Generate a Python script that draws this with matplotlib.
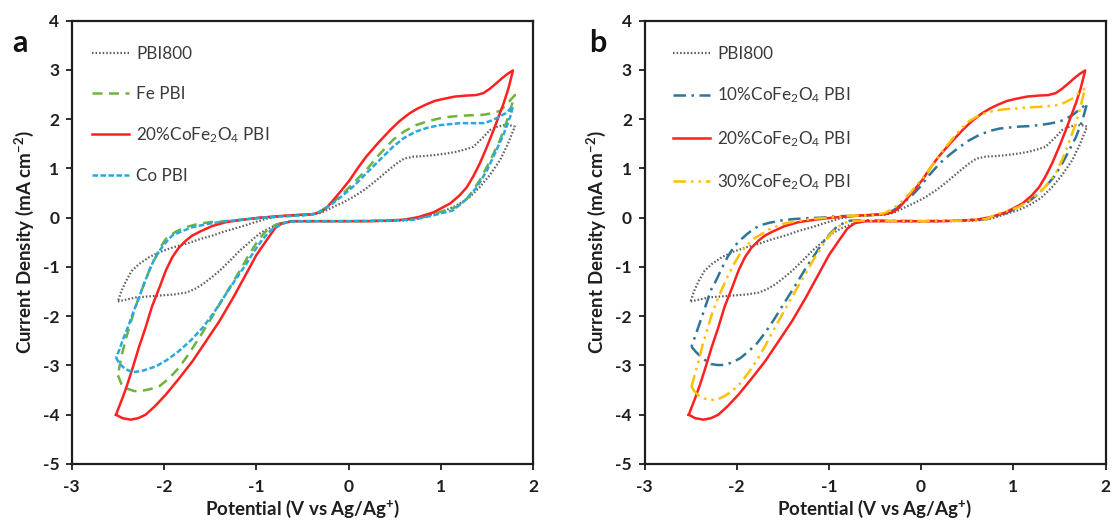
import matplotlib
matplotlib.use("Agg")
import matplotlib.pyplot as plt
import numpy as np

plt.rcParams['font.family'] = ['Lato', 'DejaVu Sans']
plt.rcParams['mathtext.fontset'] = 'custom'
plt.rcParams['mathtext.rm'] = 'Lato'
plt.rcParams['mathtext.it'] = 'Lato:italic'
plt.rcParams['mathtext.bf'] = 'Lato:bold'
plt.rcParams['axes.unicode_minus'] = False

# ---------------- data (potential V vs Ag/Ag+, current density mA cm-2) ----------------
# each loop: "fwd" = lower path from left vertex to right vertex, "rev" = upper path back
pbi800_fwd_v = [-2.50, -2.40, -2.31, -2.18, -2.05, -1.90, -1.76, -1.67, -1.58, -1.49, -1.40, -1.29, -1.18, -1.07, -0.97, -0.88, -0.79, -0.70, -0.60, -0.40, -0.20, 0.00, 0.20, 0.40, 0.66, 0.80, 0.92, 1.05, 1.17, 1.30, 1.42, 1.53, 1.64, 1.72, 1.80]
pbi800_fwd_i = [-1.70, -1.66, -1.62, -1.60, -1.58, -1.56, -1.52, -1.45, -1.35, -1.22, -1.08, -0.88, -0.67, -0.49, -0.33, -0.23, -0.16, -0.10, -0.07, -0.07, -0.07, -0.07, -0.07, -0.07, -0.05, 0.00, 0.08, 0.15, 0.25, 0.40, 0.62, 0.87, 1.17, 1.48, 1.85]
pbi800_rev_v = [1.80, 1.74, 1.68, 1.60, 1.53, 1.45, 1.35, 1.25, 1.17, 1.05, 0.92, 0.80, 0.70, 0.60, 0.52, 0.42, 0.30, 0.18, 0.05, -0.05, -0.13, -0.22, -0.30, -0.40, -0.60, -0.75, -0.89, -1.03, -1.18, -1.33, -1.47, -1.62, -1.76, -1.90, -2.05, -2.16, -2.27, -2.35, -2.41, -2.46, -2.50]
pbi800_rev_i = [1.85, 1.88, 1.88, 1.84, 1.78, 1.62, 1.44, 1.38, 1.34, 1.30, 1.27, 1.25, 1.24, 1.20, 1.10, 0.95, 0.76, 0.58, 0.42, 0.32, 0.25, 0.17, 0.10, 0.06, 0.05, 0.03, -0.02, -0.10, -0.19, -0.27, -0.36, -0.44, -0.53, -0.60, -0.70, -0.80, -0.94, -1.08, -1.28, -1.48, -1.70]

fe_fwd_v = [-2.50, -2.46, -2.40, -2.32, -2.25, -2.15, -2.05, -1.95, -1.84, -1.73, -1.62, -1.51, -1.40, -1.29, -1.18, -1.07, -0.97, -0.88, -0.79, -0.70, -0.60, -0.40, 0.00, 0.40, 0.70, 0.90, 1.05, 1.17, 1.30, 1.42, 1.53, 1.64, 1.72, 1.80]
fe_fwd_i = [-3.20, -3.38, -3.47, -3.52, -3.52, -3.48, -3.42, -3.27, -3.05, -2.76, -2.44, -2.11, -1.76, -1.42, -1.08, -0.72, -0.43, -0.24, -0.14, -0.09, -0.07, -0.07, -0.07, -0.06, -0.03, 0.06, 0.15, 0.22, 0.42, 0.76, 1.15, 1.58, 2.00, 2.49]
fe_rev_v = [1.80, 1.72, 1.64, 1.55, 1.46, 1.33, 1.21, 1.10, 0.99, 0.86, 0.73, 0.60, 0.48, 0.34, 0.19, 0.06, -0.06, -0.21, -0.35, -0.50, -0.70, -0.95, -1.15, -1.33, -1.51, -1.64, -1.76, -1.87, -1.98, -2.04, -2.09, -2.15, -2.20, -2.26, -2.31, -2.36, -2.41, -2.46, -2.50]
fe_rev_i = [2.49, 2.32, 2.17, 2.12, 2.09, 2.08, 2.07, 2.05, 2.02, 1.96, 1.88, 1.75, 1.58, 1.30, 0.97, 0.72, 0.49, 0.25, 0.08, 0.05, 0.03, 0.00, -0.04, -0.07, -0.09, -0.13, -0.19, -0.28, -0.43, -0.60, -0.80, -1.02, -1.28, -1.55, -1.82, -2.12, -2.44, -2.80, -3.20]

cf20_fwd_v = [-2.52, -2.45, -2.36, -2.28, -2.20, -2.10, -1.98, -1.84, -1.69, -1.55, -1.40, -1.25, -1.11, -1.00, -0.89, -0.80, -0.72, -0.60, -0.40, -0.20, 0.00, 0.20, 0.40, 0.60, 0.75, 0.92, 1.10, 1.20, 1.28, 1.35, 1.42, 1.50, 1.57, 1.63, 1.68, 1.73, 1.78]
cf20_fwd_i = [-4.00, -4.07, -4.10, -4.07, -4.00, -3.83, -3.59, -3.27, -2.91, -2.52, -2.10, -1.62, -1.14, -0.76, -0.46, -0.22, -0.11, -0.07, -0.07, -0.07, -0.07, -0.07, -0.06, -0.04, 0.01, 0.11, 0.29, 0.45, 0.62, 0.84, 1.10, 1.45, 1.78, 2.08, 2.33, 2.62, 2.99]
cf20_rev_v = [1.78, 1.72, 1.66, 1.60, 1.53, 1.46, 1.38, 1.28, 1.15, 1.02, 0.93, 0.84, 0.75, 0.66, 0.55, 0.45, 0.32, 0.19, 0.10, 0.01, -0.08, -0.17, -0.24, -0.31, -0.40, -0.53, -0.70, -0.97, -1.15, -1.33, -1.48, -1.62, -1.70, -1.76, -1.84, -1.91, -1.98, -2.05, -2.13, -2.20, -2.27, -2.34, -2.40, -2.45, -2.52]
cf20_rev_i = [2.99, 2.92, 2.83, 2.73, 2.62, 2.53, 2.49, 2.48, 2.46, 2.41, 2.37, 2.30, 2.22, 2.12, 1.96, 1.78, 1.52, 1.24, 1.01, 0.76, 0.55, 0.35, 0.20, 0.11, 0.07, 0.06, 0.04, 0.00, -0.04, -0.09, -0.17, -0.29, -0.37, -0.46, -0.61, -0.80, -1.07, -1.42, -1.80, -2.23, -2.62, -3.05, -3.40, -3.66, -4.00]

co_fwd_v = [-2.52, -2.48, -2.42, -2.36, -2.31, -2.22, -2.09, -1.97, -1.84, -1.71, -1.58, -1.45, -1.33, -1.22, -1.11, -1.02, -0.93, -0.84, -0.75, -0.65, -0.40, 0.00, 0.40, 0.70, 0.90, 1.13, 1.26, 1.39, 1.50, 1.60, 1.68, 1.75, 1.78]
co_fwd_i = [-2.84, -2.97, -3.07, -3.12, -3.13, -3.10, -3.02, -2.89, -2.71, -2.49, -2.23, -1.90, -1.55, -1.24, -0.94, -0.67, -0.43, -0.25, -0.15, -0.08, -0.07, -0.07, -0.06, -0.04, 0.04, 0.15, 0.35, 0.62, 0.97, 1.37, 1.70, 2.05, 2.26]
co_rev_v = [1.78, 1.70, 1.60, 1.53, 1.46, 1.33, 1.21, 1.10, 0.99, 0.86, 0.73, 0.60, 0.48, 0.34, 0.19, 0.06, -0.06, -0.20, -0.35, -0.50, -0.70, -0.95, -1.15, -1.33, -1.51, -1.69, -1.80, -1.91, -1.98, -2.05, -2.11, -2.16, -2.22, -2.27, -2.33, -2.38, -2.44, -2.49, -2.52]
co_rev_i = [2.26, 2.12, 2.02, 1.96, 1.92, 1.92, 1.92, 1.90, 1.88, 1.83, 1.75, 1.62, 1.44, 1.18, 0.90, 0.65, 0.46, 0.25, 0.08, 0.05, 0.03, 0.00, -0.04, -0.07, -0.12, -0.19, -0.27, -0.36, -0.50, -0.67, -0.86, -1.08, -1.35, -1.62, -1.90, -2.17, -2.45, -2.71, -2.84]

cf10_fwd_v = [-2.49, -2.44, -2.39, -2.33, -2.28, -2.21, -2.14, -2.05, -1.96, -1.87, -1.78, -1.69, -1.60, -1.51, -1.42, -1.33, -1.24, -1.15, -1.06, -0.98, -0.91, -0.84, -0.77, -0.65, -0.40, 0.00, 0.40, 0.70, 0.92, 1.14, 1.25, 1.35, 1.45, 1.53, 1.61, 1.68, 1.75, 1.80]
cf10_fwd_i = [-2.62, -2.73, -2.82, -2.91, -2.97, -2.99, -2.99, -2.94, -2.85, -2.71, -2.55, -2.33, -2.08, -1.81, -1.54, -1.27, -0.99, -0.74, -0.49, -0.31, -0.18, -0.11, -0.06, -0.05, -0.06, -0.07, -0.06, -0.03, 0.09, 0.29, 0.45, 0.63, 0.85, 1.10, 1.38, 1.64, 1.98, 2.32]
cf10_rev_v = [1.80, 1.72, 1.64, 1.57, 1.50, 1.39, 1.28, 1.17, 1.06, 0.95, 0.85, 0.74, 0.63, 0.52, 0.42, 0.31, 0.20, 0.09, -0.01, -0.10, -0.20, -0.30, -0.40, -0.55, -0.70, -0.91, -1.10, -1.24, -1.40, -1.53, -1.64, -1.74, -1.81, -1.88, -1.96, -2.03, -2.10, -2.17, -2.22, -2.28, -2.33, -2.39, -2.44, -2.49]
cf10_rev_i = [2.32, 2.20, 2.08, 2.01, 1.95, 1.91, 1.88, 1.86, 1.85, 1.83, 1.81, 1.76, 1.68, 1.57, 1.44, 1.28, 1.10, 0.87, 0.63, 0.45, 0.29, 0.15, 0.08, 0.05, 0.04, 0.03, 0.00, -0.01, -0.03, -0.06, -0.10, -0.15, -0.22, -0.32, -0.45, -0.59, -0.80, -1.06, -1.26, -1.47, -1.75, -2.08, -2.35, -2.62]

cf30_fwd_v = [-2.49, -2.46, -2.42, -2.35, -2.28, -2.21, -2.14, -2.05, -1.96, -1.87, -1.78, -1.69, -1.60, -1.49, -1.38, -1.27, -1.17, -1.08, -0.99, -0.91, -0.84, -0.75, -0.65, -0.40, 0.00, 0.40, 0.70, 0.85, 0.96, 1.06, 1.17, 1.28, 1.37, 1.46, 1.53, 1.60, 1.66, 1.71, 1.78]
cf30_fwd_i = [-3.43, -3.52, -3.60, -3.67, -3.70, -3.69, -3.63, -3.52, -3.36, -3.14, -2.89, -2.60, -2.28, -1.91, -1.54, -1.19, -0.86, -0.59, -0.35, -0.20, -0.11, -0.07, -0.06, -0.06, -0.07, -0.06, -0.03, 0.09, 0.15, 0.22, 0.34, 0.50, 0.68, 0.90, 1.18, 1.51, 1.82, 2.12, 2.63]
cf30_rev_v = [1.78, 1.71, 1.64, 1.57, 1.50, 1.39, 1.28, 1.17, 1.06, 0.95, 0.85, 0.74, 0.63, 0.52, 0.42, 0.33, 0.24, 0.15, 0.06, -0.03, -0.12, -0.21, -0.30, -0.40, -0.55, -0.75, -1.09, -1.24, -1.38, -1.51, -1.63, -1.72, -1.81, -1.89, -1.96, -2.03, -2.10, -2.16, -2.21, -2.27, -2.32, -2.37, -2.41, -2.45, -2.49]
cf30_rev_i = [2.63, 2.53, 2.42, 2.35, 2.29, 2.27, 2.25, 2.24, 2.22, 2.21, 2.19, 2.15, 2.08, 1.96, 1.78, 1.58, 1.37, 1.14, 0.90, 0.70, 0.50, 0.33, 0.19, 0.09, 0.05, 0.04, -0.01, -0.04, -0.08, -0.13, -0.22, -0.32, -0.42, -0.56, -0.72, -0.94, -1.20, -1.45, -1.67, -1.96, -2.28, -2.58, -2.89, -3.15, -3.43]

x_ticks = [-3, -2, -1, 0, 1, 2]
y_ticks = [-5, -4, -3, -2, -1, 0, 1, 2, 3, 4]

lbl_pbi = "PBI800"
lbl_fe = "Fe PBI"
lbl_co = "Co PBI"
lbl_10 = "10%CoFe$_2$O$_4$ PBI"
lbl_20 = "20%CoFe$_2$O$_4$ PBI"
lbl_30 = "30%CoFe$_2$O$_4$ PBI"


def loop(fv, fi, rv, ri):
    return np.r_[fv, rv], np.r_[fi, ri]


# ---------------- styles ----------------
sty = {
    'pbi': dict(color='#5f5f5f', lw=1.6, linestyle=(0, (0.7, 0.9))),
    'fe': dict(color='#6db33f', lw=1.8, linestyle=(0, (4.0, 2.6))),
    'cf20': dict(color='#ff2020', lw=1.8, linestyle='-'),
    'co': dict(color='#26a9e0', lw=1.8, linestyle=(0, (2.2, 1.0))),
    'cf10': dict(color='#2f7595', lw=1.8, linestyle=(0, (5.0, 2.2, 1.0, 2.2))),
    'cf30': dict(color='#ffc000', lw=1.8, linestyle=(0, (5.0, 2.0, 1.0, 2.0, 1.0, 2.0))),
}

W, H = 1113, 526
fig = plt.figure(figsize=(W / 100, H / 100), dpi=100)
ax_a = fig.add_axes([71.7 / W, 62 / H, (533.3 - 71.7) / W, (464 - 20.7) / H])
ax_b = fig.add_axes([644.5 / W, 62 / H, (1105.5 - 644.5) / W, (464 - 20.7) / H])

curves_a = [
    (pbi800_fwd_v, pbi800_fwd_i, pbi800_rev_v, pbi800_rev_i, 'pbi', lbl_pbi),
    (fe_fwd_v, fe_fwd_i, fe_rev_v, fe_rev_i, 'fe', lbl_fe),
    (cf20_fwd_v, cf20_fwd_i, cf20_rev_v, cf20_rev_i, 'cf20', lbl_20),
    (co_fwd_v, co_fwd_i, co_rev_v, co_rev_i, 'co', lbl_co),
]
curves_b = [
    (pbi800_fwd_v, pbi800_fwd_i, pbi800_rev_v, pbi800_rev_i, 'pbi', lbl_pbi),
    (cf10_fwd_v, cf10_fwd_i, cf10_rev_v, cf10_rev_i, 'cf10', lbl_10),
    (cf20_fwd_v, cf20_fwd_i, cf20_rev_v, cf20_rev_i, 'cf20', lbl_20),
    (cf30_fwd_v, cf30_fwd_i, cf30_rev_v, cf30_rev_i, 'cf30', lbl_30),
]

for ax, curves, letter, lx, letx in [(ax_a, curves_a, 'a', 0.043, 20), (ax_b, curves_b, 'b', 0.061, 598)]:
    for fv, fi, rv, ri, key, lab in curves:
        x, y = loop(fv, fi, rv, ri)
        ax.plot(x, y, label=lab, solid_joinstyle='round', **sty[key])
    ax.set_xlim(-3, 2)
    ax.set_ylim(-5, 4)
    ax.set_xticks(x_ticks)
    ax.set_yticks(y_ticks)
    ax.tick_params(direction='out', length=4, width=1.3, labelsize=12.5, colors='#1e1e1e')
    ax.tick_params(axis='x', pad=7)
    ax.tick_params(axis='y', pad=5)
    for t in ax.get_xticklabels() + ax.get_yticklabels():
        t.set_fontweight('bold')
    for s in ax.spines.values():
        s.set_linewidth(1.6)
        s.set_color('#1e1e1e')
    ax.set_xlabel("Potential (V vs Ag/Ag$^{\\mathbf{+}}$)", fontsize=13.5, fontweight='bold',
                  color='#1e1e1e', labelpad=2)
    ax.set_ylabel("Current Density (mA cm$^{\\mathbf{-2}}$)", fontsize=13.5, fontweight='bold',
                  color='#1e1e1e', labelpad=5)
    leg = ax.legend(loc='upper left', bbox_to_anchor=(lx, 0.943), frameon=False, fontsize=12.3,
                    handlelength=2.2, handletextpad=0.4, labelspacing=1.38,
                    borderaxespad=0, borderpad=0)
    for t in leg.get_texts():
        t.set_color('#3a3a3a')
    fig.text(letx / W, 1 - 43 / H, letter, fontsize=22, fontweight='bold',
             ha='center', va='center', color='#111111')

fig.savefig("out.png", dpi=100)
